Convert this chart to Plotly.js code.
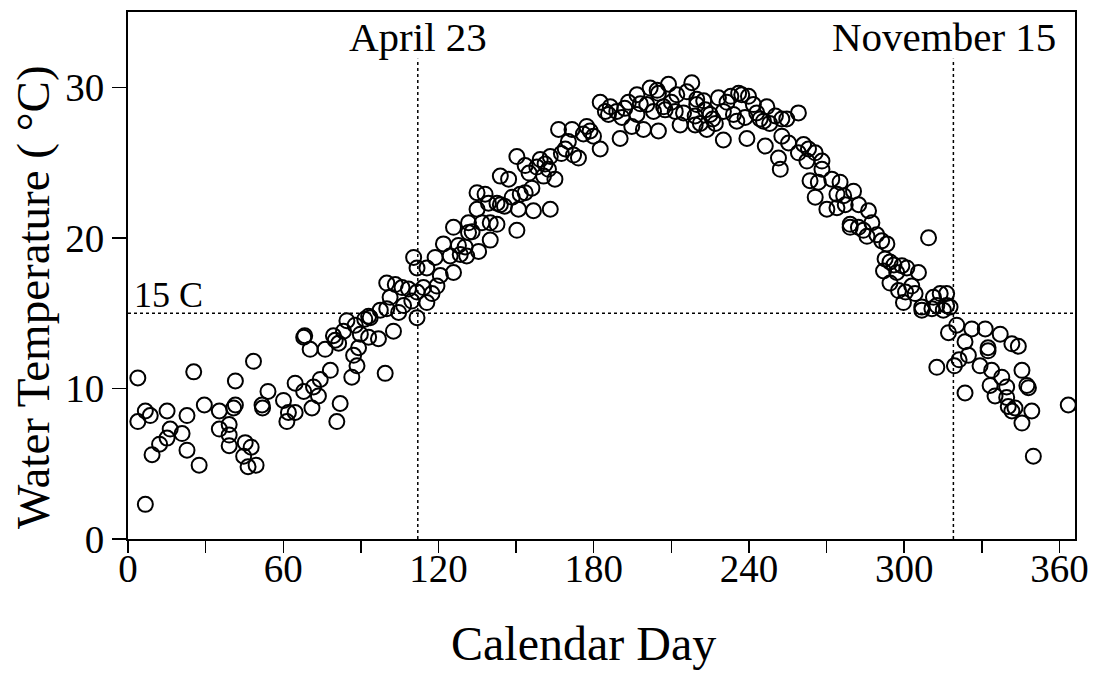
<!DOCTYPE html>
<html>
<head>
<meta charset="utf-8">
<script src="https://cdn.plot.ly/plotly-3.0.1.min.js"></script>
<style>
  html, body { margin: 0; padding: 0; background: #ffffff; }
  #chart { width: 1099px; height: 673px; }
</style>
</head>
<body>
<div id="chart"></div>
<script>
// Daily water temperature observations: calendar day and temperature (°C)
const calendarDay = [
  3.8, 25.4, 48.5, 41.5, 54.1, 6.7, 8.6, 3.8, 15.1, 22.8, 29.5, 35.3, 41.5, 40.8, 51.8, 52,
  16.3, 15.1, 12.2, 20.9, 9.3, 22.8, 27.5, 6.7, 35.3, 39.1, 39.1, 39.1, 45.3, 47.6, 44.7, 46.4, 49.5,
  110.4, 118.7, 111.7, 115.5, 100, 103.3, 105.9, 108.4, 111.7, 114.2, 117.5, 101.3, 109.7, 115.5,
  100, 104.6, 111.7, 93, 93.6, 84.6, 87.8, 89.8, 93, 96.8, 102.6, 83.3, 79.4, 80.1, 81.4, 67.9, 68.3,
  70.4, 76.2, 89.1, 87.2, 88.5, 86.5, 99.4, 78.2, 74.3, 64.6, 71.7, 67.9, 73.6, 71.1, 60.1, 62, 64.6,
  61.4, 82, 80.7, 120.7, 119.4,
  150.3, 159.3, 163.2, 153.5, 158, 162.5, 160.6, 165, 143.9, 147.1, 156.1, 151.6, 153.5, 134.9, 138,
  139.3, 142.6, 143.9, 134.9, 150.9, 156.7, 163.2, 131.6, 136.8, 140, 142.6, 125.8, 131.6, 150.3, 140,
  121.9, 127.7, 130.3, 135.5, 124.5, 128.4, 130.9, 125.8,
  217.9, 208.9, 201.8, 196.7, 205, 212.1, 216, 219.8, 182.5, 186.4, 193.4, 200.5, 188.9, 185.7, 190.9,
  196.7, 203.1, 207.6, 211.5, 214.7, 219.2, 194.7, 199.2, 205, 213.4, 219.2, 190.2, 166.4, 171.6, 177.3,
  178.6, 176, 179.9, 182.5, 170.2, 169, 172.2, 174.1, 161.2,
  228.2, 236, 237.2, 239.8, 231.5, 241.7, 246.9, 219.8, 223.1, 225, 230.1, 234, 250.2, 254.6, 259.1,
  244.3, 221.2, 227, 235.3, 245.6, 252.7, 223.7, 230.1, 239.2, 246.3, 252.7, 255.3, 261.1, 263, 265.6,
  259.1, 251.4, 252.1, 262.4, 268.2, 268.2, 263.6, 266.8, 272, 265.6, 270.1, 274, 274,
  275.2, 276.6, 277.2, 279.1, 279.1, 280.4, 282.4, 286.2, 282.3, 284.2, 285.6, 289.4, 291.3, 293.3,
  309.4, 292.6, 294.5, 299.1, 301, 292, 297.1, 305.5, 294.5, 297.8, 302.9, 304.2, 299.7, 306.8, 306.8,
  311.3, 313.9, 316.4, 312.6, 310.7, 316.4, 317.7, 315.1, 317.1, 320.3, 326.1, 331.3, 323.5, 332.4,
  332.4, 312.6, 319.4, 321.2,
  337.1, 341.6, 344.1, 324.8, 329.3, 333.8, 337.7, 345.5, 347.4, 348, 333.2, 335.1, 339.6, 339.6,
  323.5, 340.2, 341.6, 342.8, 349.3, 345.5, 363.4, 349.9,
  184.5, 192.0, 198.0, 204.5, 207.0, 210.0, 222.5, 226.0, 233.0, 238.5, 243.0, 248.0,
  133.0, 145.5, 148.5, 155.0, 167.5, 287.5, 296.0, 300.5, 91.5, 97.5, 106.5
];
const waterTemp = [
  10.7, 11.1, 11.8, 10.5, 9.8, 8.5, 8.2, 7.8, 8.5, 8.2, 8.9, 8.5, 8.9, 8.7, 8.9, 8.7,
  7.3, 6.7, 6.3, 7.0, 5.6, 5.9, 4.9, 2.3, 7.3, 7.6, 6.9, 6.2, 6.4, 6.1, 5.5, 4.8, 4.9,
  18.7, 18.7, 18.0, 18.0, 17.0, 16.9, 16.7, 16.6, 16.4, 16.7, 16.3, 16.05, 15.8, 15.7,
  15.3, 15.05, 14.7, 14.8, 14.7, 14.5, 14.2, 13.6, 13.4, 13.3, 13.8, 13.8, 13.5, 13.2, 13.0, 13.4, 13.5,
  12.6, 12.6, 12.7, 12.2, 11.5, 10.75, 11.0, 11.2, 10.6, 10.35, 10.1, 9.8, 9.5, 8.7, 9.2, 8.4, 8.4,
  7.8, 9.0, 7.8, 17.5, 16.8,
  25.4, 25.2, 25.4, 24.8, 24.7, 24.55, 24.1, 23.9, 24.1, 23.9, 23.3, 22.9, 23.0, 23.0, 22.9,
  22.3, 22.3, 22.2, 21.9, 21.9, 21.8, 21.9, 21.0, 21.0, 21.0, 20.9, 20.7, 20.35, 20.5, 19.85,
  19.6, 19.5, 19.4, 19.1, 18.8, 18.9, 18.8, 17.7,
  30.3, 30.2, 29.95, 29.5, 29.6, 29.5, 29.7, 29.2, 29.0, 28.7, 29.0, 28.85, 28.4, 28.2, 28.0,
  28.2, 28.4, 28.5, 28.4, 28.3, 28.1, 27.4, 27.2, 27.1, 27.5, 27.5, 26.6, 27.2, 27.2, 27.4,
  27.1, 26.9, 26.75, 25.9, 26.4, 25.9, 25.5, 25.3, 24.9,
  29.3, 29.6, 29.5, 29.4, 29.0, 28.85, 28.7, 28.85, 28.5, 28.2, 28.4, 28.2, 28.1, 27.9, 28.3,
  27.9, 27.6, 27.6, 27.75, 27.75, 27.9, 27.2, 26.5, 26.6, 26.1, 26.75, 26.3, 26.2, 25.9, 25.65,
  25.65, 25.3, 24.55, 25.1, 25.1, 24.55, 23.8, 23.7, 23.9, 22.7, 21.9, 22.9, 22.0,
  23.7, 22.8, 22.2, 20.9, 20.7, 23.1, 22.2, 21.8, 20.7, 20.5, 20.1, 20.2, 19.8, 19.6,
  20.0, 18.6, 18.4, 18.15, 18.0, 17.8, 17.7, 17.7, 17.0, 16.5, 16.8, 16.3, 15.7, 15.4, 15.2,
  16.05, 16.3, 16.3, 15.5, 15.3, 15.5, 15.4, 15.2, 13.7, 14.2, 13.95, 13.95, 13.1, 12.7,
  12.5, 11.4, 11.5, 11.9,
  13.6, 12.96, 12.8, 12.2, 11.5, 11.2, 10.75, 11.2, 10.2, 10.05, 10.2, 9.5, 10.1, 9.4,
  9.7, 8.8, 8.5, 8.7, 8.5, 7.7, 8.9, 5.5,
  28.4, 28.6, 28.9, 29.8, 28.7, 29.0, 29.1, 27.9, 29.4, 28.0, 28.3, 27.6,
  20.4, 22.1, 22.7, 24.3, 25.6, 21.0, 18.2, 16.4, 14.6, 15.2, 15.5
];

// Reference markers: 15 °C threshold and the two calendar dates
const thresholdTemp = 15;
const thresholdLabel = '15 C';
const dateDays = [112, 319];
const dateLabels = ['April 23', 'November 15'];
const dateLineTop = 31.9;

const xTickVals = [0, 30, 60, 90, 120, 150, 180, 210, 240, 270, 300, 330, 360];
const xTickText = ['0', '', '60', '', '120', '', '180', '', '240', '', '300', '', '360'];
const yTickVals = [0, 10, 20, 30];
const yTickText = ['0', '10', '20', '30'];
const xTitle = 'Calendar Day';
const yTitle = 'Water Temperature ( °C)';

const serif = 'Liberation Serif, Times New Roman, serif';

const trace = {
  type: 'scatter',
  mode: 'markers',
  x: calendarDay,
  y: waterTemp,
  marker: {
    symbol: 'circle-open',
    size: 15,
    color: '#000000',
    line: { width: 2, color: '#000000' }
  },
  hoverinfo: 'x+y',
  showlegend: false
};

const shapes = [
  {
    type: 'line', xref: 'paper', yref: 'y',
    x0: 0, x1: 1, y0: thresholdTemp, y1: thresholdTemp,
    line: { color: '#000000', width: 1.5, dash: 'dot' }
  }
].concat(dateDays.map(d => ({
  type: 'line', xref: 'x', yref: 'y',
  x0: d, x1: d, y0: 0, y1: dateLineTop,
  line: { color: '#000000', width: 1.5, dash: 'dot' }
})));

const annotations = [
  {
    xref: 'x', yref: 'y', x: 1.5, y: thresholdTemp,
    text: thresholdLabel, showarrow: false,
    xanchor: 'left', yanchor: 'bottom', yshift: -4,
    font: { family: serif, size: 36, color: '#000000' }
  },
  {
    xref: 'x', yref: 'paper', x: dateDays[0], y: 1,
    text: dateLabels[0], showarrow: false,
    xanchor: 'center', yanchor: 'top', yshift: 0,
    font: { family: serif, size: 41, color: '#000000' }
  },
  {
    xref: 'x', yref: 'paper', x: dateDays[1] - 3.5, y: 1,
    text: dateLabels[1], showarrow: false,
    xanchor: 'center', yanchor: 'top', yshift: 0,
    font: { family: serif, size: 41, color: '#000000' }
  },
  // axis titles
  {
    xref: 'paper', yref: 'paper', x: 0.481, y: -0.145,
    text: xTitle, showarrow: false,
    xanchor: 'center', yanchor: 'top',
    font: { family: serif, size: 48, color: '#000000' }
  },
  {
    xref: 'paper', yref: 'paper', x: -0.1003, y: 0.459,
    text: yTitle, showarrow: false, textangle: -90,
    xanchor: 'center', yanchor: 'middle',
    font: { family: serif, size: 47, color: '#000000' }
  }
];

const axisCommon = {
  showline: true, linecolor: '#000000', linewidth: 2, mirror: true,
  showgrid: false, zeroline: false,
  ticks: 'outside', tickcolor: '#000000', tickwidth: 1.5,
  tickfont: { family: serif, size: 39, color: '#000000' },
  tickmode: 'array'
};

const layout = {
  width: 1099, height: 673,
  margin: { l: 128, r: 24, t: 12, b: 134, pad: 0 },
  paper_bgcolor: '#ffffff', plot_bgcolor: '#ffffff',
  xaxis: Object.assign({}, axisCommon, {
    range: [0, 366], tickvals: xTickVals, ticktext: xTickText, ticklen: 12,
    ticklabelstandoff: -18
  }),
  yaxis: Object.assign({}, axisCommon, {
    range: [0, 35], tickvals: yTickVals, ticktext: yTickText, ticklen: 14
  }),
  shapes: shapes,
  annotations: annotations,
  showlegend: false
};

Plotly.newPlot('chart', [trace], layout, { displayModeBar: false, staticPlot: true });
</script>
</body>
</html>
